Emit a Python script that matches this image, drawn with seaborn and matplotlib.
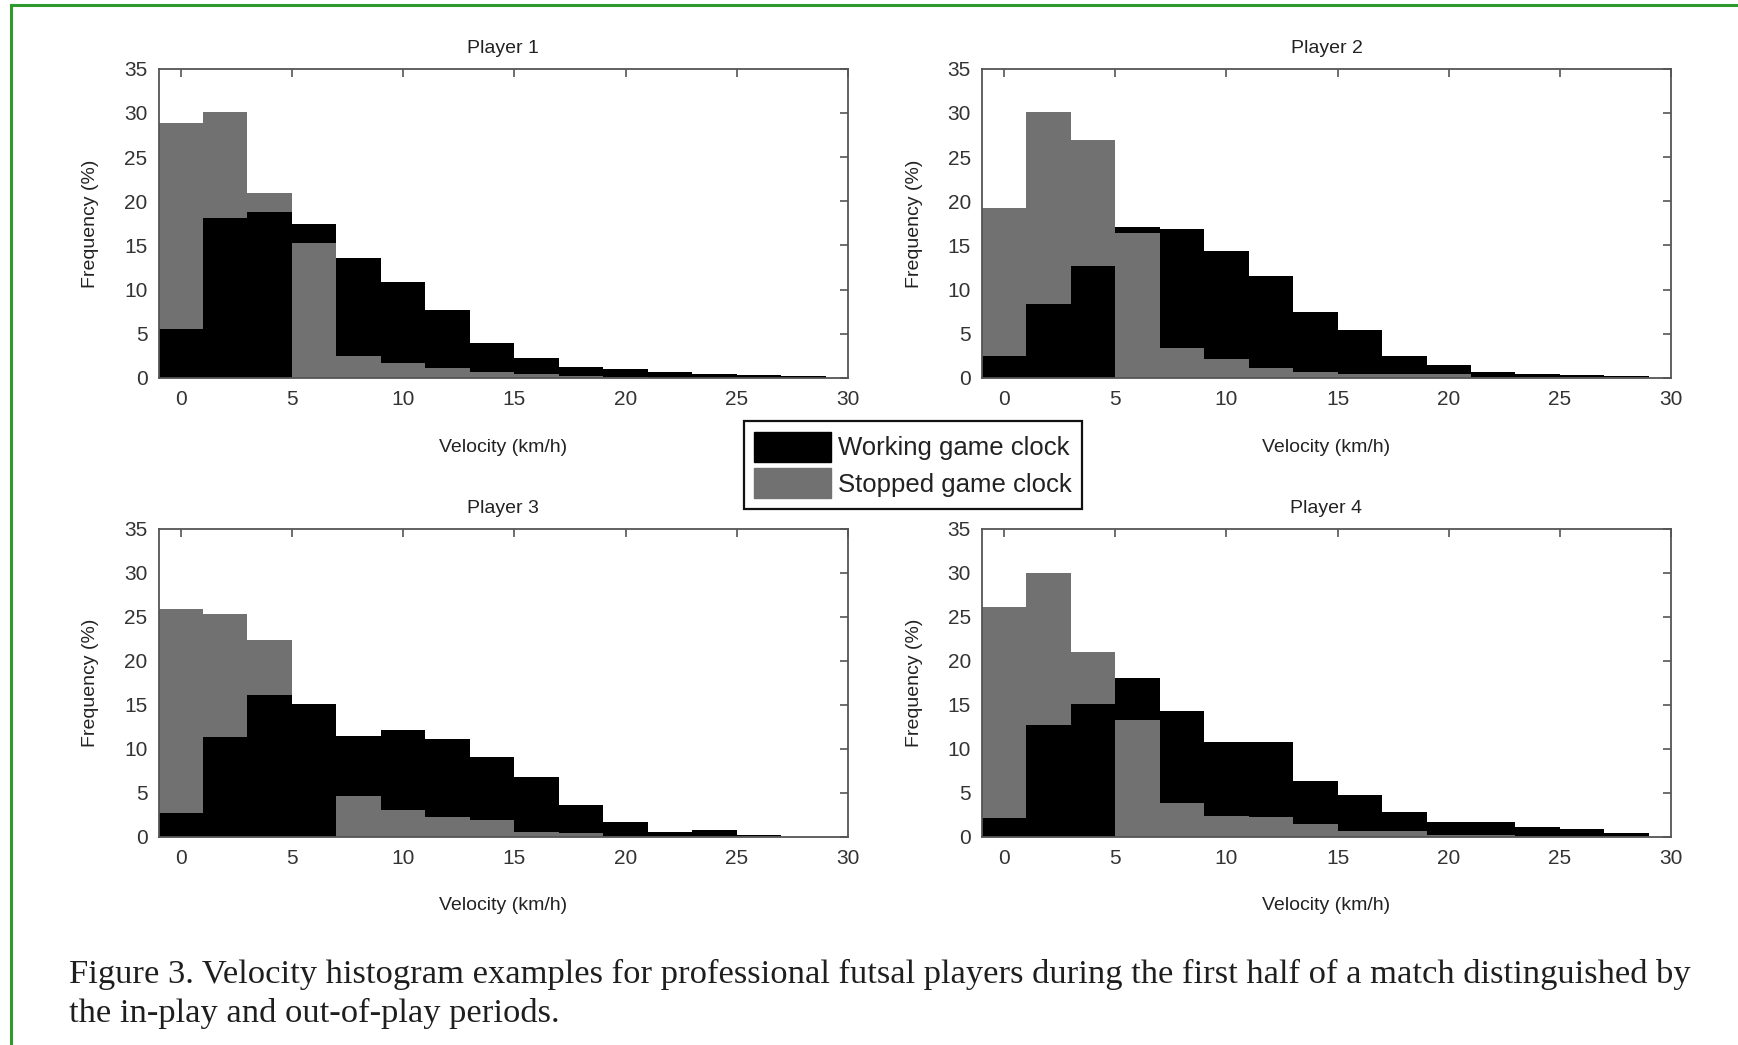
import numpy as np
import matplotlib
matplotlib.use("Agg")
import matplotlib.pyplot as plt
from matplotlib.patches import Patch, Rectangle
import seaborn as sns

# Velocity bins (km/h), 2 km/h wide, centred on even values
bin_centers = [0, 2, 4, 6, 8, 10, 12, 14, 16, 18, 20, 22, 24, 26, 28]
bin_edges = [-1, 1, 3, 5, 7, 9, 11, 13, 15, 17, 19, 21, 23, 25, 27, 29]

player_titles = ["Player 1", "Player 2", "Player 3", "Player 4"]

# Frequency (%) with the game clock running
working_p1 = [5.5, 18.1, 18.8, 17.4, 13.6, 10.9, 7.7, 4.0, 2.3, 1.3, 1.0, 0.65, 0.5, 0.3, 0.25]
working_p2 = [2.5, 8.4, 12.7, 17.1, 16.9, 14.4, 11.5, 7.5, 5.4, 2.5, 1.5, 0.65, 0.5, 0.3, 0.25]
working_p3 = [2.7, 11.3, 16.1, 15.1, 11.5, 12.1, 11.1, 9.1, 6.8, 3.6, 1.7, 0.57, 0.76, 0.23, 0.0]
working_p4 = [2.15, 12.7, 15.1, 18.0, 14.3, 10.8, 10.8, 6.3, 4.7, 2.8, 1.7, 1.7, 1.13, 0.83, 0.45]

# Frequency (%) with the game clock stopped
stopped_p1 = [28.8, 30.1, 20.9, 15.25, 2.5, 1.66, 1.1, 0.65, 0.45, 0.2, 0.1, 0.05, 0.05, 0.05, 0.05]
stopped_p2 = [19.25, 30.1, 26.9, 16.4, 3.4, 2.1, 1.1, 0.65, 0.5, 0.45, 0.4, 0.1, 0.1, 0.1, 0.1]
stopped_p3 = [25.9, 25.35, 22.3, 0.0, 4.6, 3.0, 2.2, 1.9, 0.57, 0.4, 0.1, 0.1, 0.1, 0.1, 0.0]
stopped_p4 = [26.05, 30.0, 20.95, 13.3, 3.85, 2.4, 2.26, 1.47, 0.64, 0.64, 0.25, 0.2, 0.1, 0.1, 0.1]

working_all = [working_p1, working_p2, working_p3, working_p4]
stopped_all = [stopped_p1, stopped_p2, stopped_p3, stopped_p4]

legend_labels = ["Working game clock", "Stopped game clock"]
caption_lines = [
    "Figure 3. Velocity histogram examples for professional futsal players during the first half "
    "of a match distinguished by",
    "the in-play and out-of-play periods.",
]

WORK_COLOR = "#000000"
STOP_COLOR = "#717171"
AXIS_COLOR = "#555555"
TEXT_COLOR = "#333333"

sns.set_theme(style="white")
plt.rcParams["font.family"] = ["Liberation Sans Narrow", "Liberation Sans", "DejaVu Sans"]

fig = plt.figure(figsize=(17.38, 10.45), dpi=100)

W, H = 1738.0, 1045.0
panel_boxes = [
    (158.5, 68.7, 848.0, 378.0),
    (982.0, 68.7, 1671.0, 378.0),
    (158.5, 528.7, 848.0, 836.8),
    (982.0, 528.7, 1671.0, 836.8),
]


def draw_panel(ax, title, working, stopped):
    n0 = len(ax.patches)
    sns.histplot(x=bin_centers, weights=working, bins=bin_edges, color=WORK_COLOR,
                 alpha=1, linewidth=0, ax=ax)
    work_bars = ax.patches[n0:]
    n1 = len(ax.patches)
    sns.histplot(x=bin_centers, weights=stopped, bins=bin_edges, color=STOP_COLOR,
                 alpha=1, linewidth=0, ax=ax)
    stop_bars = ax.patches[n1:]
    # in each bin the shorter bar sits in front of the taller one
    for wb, sb in zip(work_bars, stop_bars):
        if wb.get_height() <= sb.get_height():
            wb.set_zorder(2.2)
            sb.set_zorder(2.1)
        else:
            wb.set_zorder(2.1)
            sb.set_zorder(2.2)

    ax.set_xlim(-1, 30)
    ax.set_ylim(0, 35)
    ax.set_xticks(range(0, 31, 5))
    ax.set_yticks(range(0, 36, 5))
    ax.tick_params(direction="in", top=True, right=True, labeltop=False, labelright=False,
                   length=6, width=1.2, color=AXIS_COLOR, labelcolor=TEXT_COLOR,
                   labelsize=15)
    ax.tick_params(axis="x", pad=9)
    ax.tick_params(axis="y", pad=8)
    for sp in ax.spines.values():
        sp.set_visible(True)
        sp.set_color(AXIS_COLOR)
        sp.set_linewidth(1.3)
    ax.set_title(title, fontsize=14, color="#222222", pad=11)
    ax.set_xlabel("Velocity (km/h)", fontsize=14, color="#222222", labelpad=21)
    ax.set_ylabel("Frequency (%)", fontsize=14, color="#222222", labelpad=18)
    ax.grid(False)


for (l, t, r, b), title, wk, st in zip(panel_boxes, player_titles, working_all, stopped_all):
    ax = fig.add_axes([l / W, 1 - b / H, (r - l) / W, (b - t) / H])
    draw_panel(ax, title, wk, st)

handles = [Patch(facecolor=WORK_COLOR, edgecolor=WORK_COLOR),
           Patch(facecolor=STOP_COLOR, edgecolor=STOP_COLOR)]
leg = fig.legend(handles, legend_labels, loc="center", bbox_to_anchor=(913 / W, 1 - 465 / H),
                 frameon=True, fancybox=False, edgecolor="#111111", framealpha=1,
                 handlelength=3.0, handleheight=1.45, handletextpad=0.25, labelspacing=0.22,
                 borderpad=0.4, borderaxespad=0,
                 prop={"family": ["Liberation Sans", "DejaVu Sans"], "size": 18.5})
leg.get_frame().set_linewidth(1.6)
for txt in leg.get_texts():
    txt.set_color("#222222")

for i, line in enumerate(caption_lines):
    fig.text(68.7 / W, 1 - (983 + 39 * i) / H, line, ha="left", va="baseline",
             fontsize=24.8, family=["Liberation Serif", "DejaVu Serif"], color="#1e1e1e")

# thin green page frame
fig.add_artist(Rectangle((11 / W, -0.05), 1.2, 1 - 5 / H + 0.05, transform=fig.transFigure,
                         fill=False, edgecolor="#2e9a2e", linewidth=2.2))

fig.savefig("out.png", dpi=100)
